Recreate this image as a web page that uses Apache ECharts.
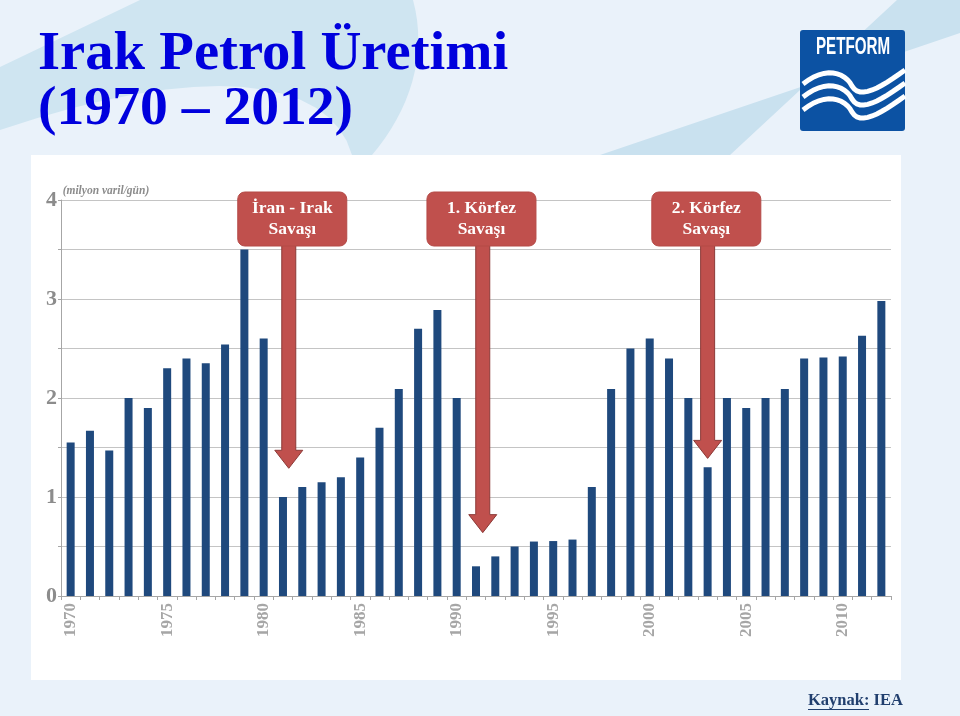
<!DOCTYPE html>
<html><head><meta charset="utf-8">
<script src="https://cdn.jsdelivr.net/npm/echarts@6/dist/echarts.min.js"></script>
<style>html,body{margin:0;padding:0;background:#eaf2fa}#c{width:960px;height:716px}</style>
</head><body><div id="c"></div>
<script>
const years = ['1970','1971','1972','1973','1974','1975','1976','1977','1978','1979',
  '1980','1981','1982','1983','1984','1985','1986','1987','1988','1989',
  '1990','1991','1992','1993','1994','1995','1996','1997','1998','1999',
  '2000','2001','2002','2003','2004','2005','2006','2007','2008','2009',
  '2010','2011','2012'];
const production = [1.55,1.67,1.47,2.00,1.90,2.30,2.40,2.35,2.54,3.50,
  2.60,1.00,1.10,1.15,1.20,1.40,1.70,2.09,2.70,2.89,
  2.00,0.30,0.40,0.50,0.55,0.555,0.57,1.10,2.09,2.50,
  2.60,2.40,2.00,1.30,2.00,1.90,2.00,2.09,2.40,2.41,
  2.42,2.63,2.98];
const xTickYears = ['1970','1975','1980','1985','1990','1995','2000','2005','2010'];
const yTickLabels = ['0','1','2','3','4'];
const unitLabel = '(milyon varil/gün)';
const annotationLabels = ['İran - Irak\nSavaşı','1. Körfez\nSavaşı','2. Körfez\nSavaşı'];
const annotationYears = [1981.3, 1991.35, 2003.0];
const annotationTips = [1.29, 0.64, 1.39];
const boxShift = [3.5, -1.3, -1.3];

const SERIF = '"Liberation Serif","Times New Roman",serif';
const chart = echarts.init(document.getElementById('c'), null, {renderer:'canvas'});
chart.setOption({
  animation: false,
  backgroundColor: '#eaf2fa',
  grid: {left: 61, right: 69, top: 200, bottom: 120},
  xAxis: {
    type: 'category', data: years,
    axisLine: {lineStyle: {color: '#a6a6a6', width: 1}},
    axisTick: {show: true, interval: 0, length: 4, lineStyle: {color: '#a6a6a6'}},
    axisLabel: {
      interval: (i, v) => xTickYears.indexOf(v) >= 0,
      rotate: 90, margin: 7,
      fontFamily: SERIF, fontWeight: 'bold', fontSize: 17, color: '#a6a6a6'
    },
    splitLine: {show: false}
  },
  yAxis: {
    type: 'value', min: 0, max: 4, interval: 0.5,
    axisLine: {show: true, lineStyle: {color: '#a6a6a6'}},
    axisTick: {show: true, length: 3, lineStyle: {color: '#a6a6a6'}},
    axisLabel: {
      margin: 4,
      formatter: v => Number.isInteger(v) ? yTickLabels[v] : '',
      fontFamily: SERIF, fontWeight: 'bold', fontSize: 22, color: '#8c8c8c'
    },
    splitLine: {lineStyle: {color: '#c4c4c4', width: 1}}
  },
  series: [{
    type: 'bar', data: production, barWidth: 8, silent: true,
    itemStyle: {color: '#1f497d'}
  }]
});

function xPix(yearPos) {
  const base = Math.floor(yearPos);
  const frac = yearPos - base;
  const i = years.indexOf(String(base));
  const x0 = chart.convertToPixel({xAxisIndex: 0}, years[i]);
  if (frac === 0 || i + 1 >= years.length) return x0;
  const x1 = chart.convertToPixel({xAxisIndex: 0}, years[i + 1]);
  return x0 + (x1 - x0) * frac;
}
// sample a cubic bezier into points (decoration helper)
function cubic(p0, c1, c2, p1, n) {
  const pts = [];
  for (let k = 0; k <= n; k++) {
    const t = k / n, u = 1 - t;
    pts.push([u*u*u*p0[0] + 3*u*u*t*c1[0] + 3*u*t*t*c2[0] + t*t*t*p1[0],
              u*u*u*p0[1] + 3*u*u*t*c1[1] + 3*u*t*t*c2[1] + t*t*t*p1[1]]);
  }
  return pts;
}
const yTop = chart.convertToPixel({yAxisIndex: 0}, 4);
const xLeft = chart.convertToPixel({xAxisIndex: 0}, years[0]) - 10;

const g = [];
// background decorations
const swoosh = [[0,67],[140,0]].concat(cubic([413,0],[428,55],[410,110],[372,155],16))
  .concat(cubic([352,155],[330,75],[200,62],[0,130],16));
g.push({type: 'polygon', z: -20, silent: true, shape: {points: swoosh}, style: {fill: '#cfe5f1'}});
g.push({type: 'polygon', z: -20, silent: true,
  shape: {points: [[600,155],[730,155],[897,0],[960,0],[960,33]]},
  style: {fill: '#c9e1ef'}});
// white panel
g.push({type: 'rect', z: -10, silent: true, shape: {x: 31, y: 155, width: 870, height: 525}, style: {fill: '#ffffff'}});
// unit label above the value axis
g.push({type: 'text', z: 10, silent: true, x: xLeft + 2, y: yTop - 9,
  style: {text: unitLabel, fontFamily: SERIF, fontStyle: 'italic', fontWeight: 'bold', fontSize: 11.5, fill: '#8c8c8c', align: 'left', verticalAlign: 'middle'}});
// title
g.push({type: 'text', z: 10, silent: true, x: 38, y: 55, scaleX: 1.05,
  style: {text: 'Irak Petrol Üretimi', fontFamily: SERIF, fontWeight: 'bold', fontSize: 54, fill: '#0000dd', verticalAlign: 'middle', align: 'left'}});
g.push({type: 'text', z: 10, silent: true, x: 38, y: 110, scaleX: 1.03,
  style: {text: '(1970 – 2012)', fontFamily: SERIF, fontWeight: 'bold', fontSize: 54, fill: '#0000dd', verticalAlign: 'middle', align: 'left'}});
// logo
g.push({type: 'rect', z: 10, silent: true, shape: {x: 800, y: 30, width: 105, height: 101, r: 3}, style: {fill: '#0c52a3'}});
g.push({type: 'text', z: 11, silent: true, x: 853, y: 48, scaleX: 0.66,
  style: {text: 'PETFORM', fontFamily: '"Liberation Sans",Arial,sans-serif', fontWeight: 'bold', fontSize: 23, fill: '#ffffff', align: 'center', verticalAlign: 'middle'}});
[80, 93, 106].forEach((y0) => {
  const pts = cubic([803, y0 + 4], [825, y0 - 14], [845, y0 - 8], [852, y0 + 6], 12)
    .concat(cubic([852, y0 + 6], [860, y0 + 20], [880, y0 + 8], [905, y0 - 10], 12));
  g.push({type: 'polyline', z: 11, silent: true, shape: {points: pts},
    style: {fill: null, stroke: '#ffffff', lineWidth: 5}});
});
// source
g.push({type: 'text', z: 10, silent: true, x: 808, y: 701,
  style: {text: 'Kaynak: IEA', fontFamily: SERIF, fontWeight: 'bold', fontSize: 16.5, fill: '#213f6e', align: 'left', verticalAlign: 'middle'}});
g.push({type: 'line', z: 10, silent: true, shape: {x1: 808, y1: 709.5, x2: 869, y2: 709.5}, style: {stroke: '#213f6e', lineWidth: 1}});

// annotations
annotationLabels.forEach((lab, k) => {
  const cx = xPix(annotationYears[k]);
  const bx = cx + boxShift[k];
  const tipY = chart.convertToPixel({yAxisIndex: 0}, annotationTips[k]);
  const boxTop = yTop - 8, boxH = 54, boxW = 109;
  const shaftTop = boxTop + boxH - 2, headTop = tipY - 18;
  g.push({type: 'polygon', z: 50, silent: true,
    shape: {points: [[cx - 7, shaftTop], [cx + 7, shaftTop], [cx + 7, headTop], [cx + 14, headTop], [cx, tipY], [cx - 14, headTop], [cx - 7, headTop]]},
    style: {fill: '#c0504d', stroke: '#8c3a37', lineWidth: 1}});
  g.push({type: 'rect', z: 51, silent: true,
    shape: {x: bx - boxW / 2, y: boxTop, width: boxW, height: boxH, r: 7},
    style: {fill: '#c0504d', stroke: '#b44a47', lineWidth: 1}});
  g.push({type: 'text', z: 52, silent: true, x: bx, y: boxTop + boxH / 2,
    style: {text: lab, fontFamily: SERIF, fontWeight: 'bold', fontSize: 17.5, lineHeight: 21, fill: '#ffffff', align: 'center', verticalAlign: 'middle'}});
});
chart.setOption({graphic: {elements: g}});
</script></body></html>
